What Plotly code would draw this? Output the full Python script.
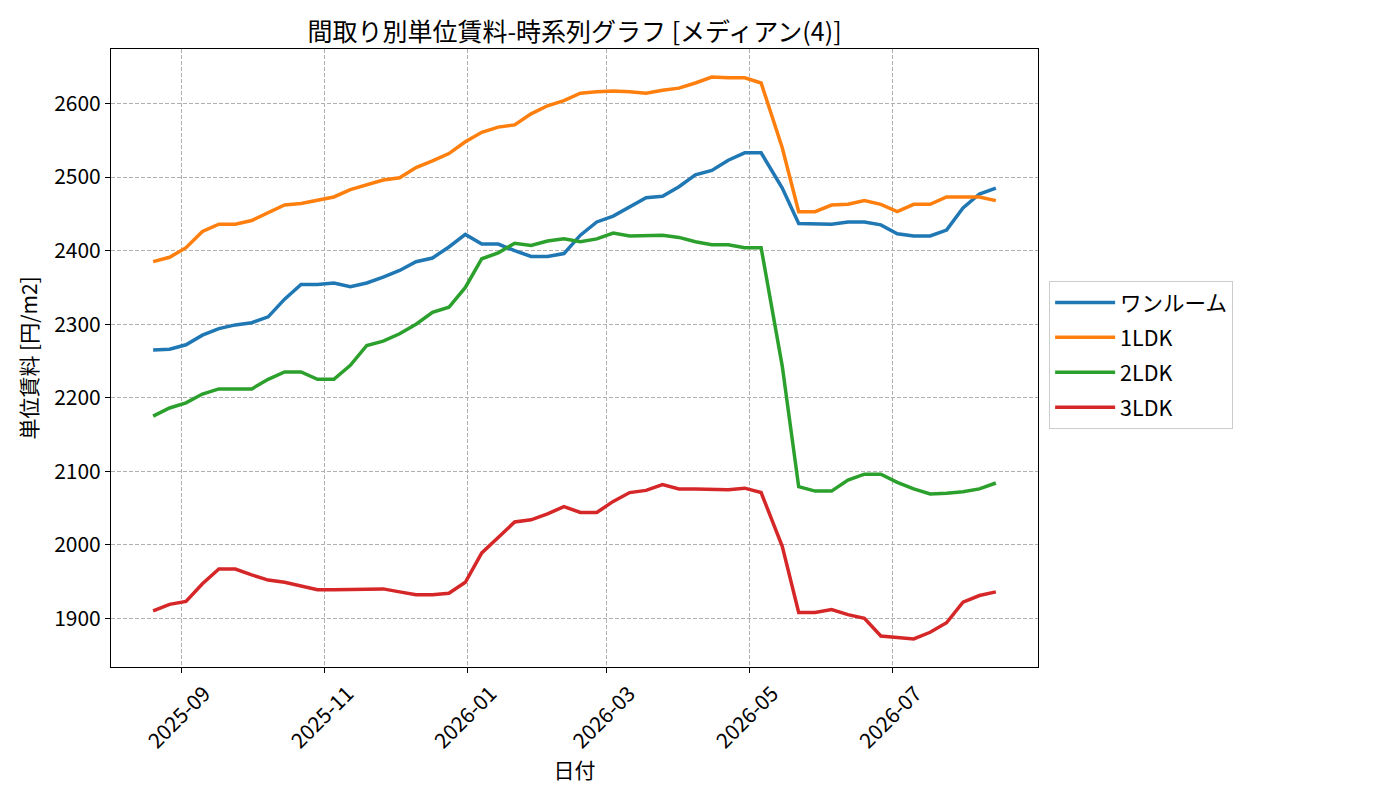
import pandas as pd
import plotly.graph_objects as go

dates = [
    "2025-08-20", "2025-08-27", "2025-09-03", "2025-09-10", "2025-09-17", "2025-09-24",
    "2025-10-01", "2025-10-08", "2025-10-15", "2025-10-22", "2025-10-29", "2025-11-05",
    "2025-11-12", "2025-11-19", "2025-11-26", "2025-12-03", "2025-12-10", "2025-12-17",
    "2025-12-24", "2025-12-31", "2026-01-07", "2026-01-14", "2026-01-21", "2026-01-28",
    "2026-02-04", "2026-02-11", "2026-02-18", "2026-02-25", "2026-03-04", "2026-03-11",
    "2026-03-18", "2026-03-25", "2026-04-01", "2026-04-08", "2026-04-15", "2026-04-22",
    "2026-04-29", "2026-05-06", "2026-05-15", "2026-05-22", "2026-05-29", "2026-06-05",
    "2026-06-12", "2026-06-19", "2026-06-26", "2026-07-03", "2026-07-10", "2026-07-17",
    "2026-07-24", "2026-07-31", "2026-08-07", "2026-08-14",
]

one_room = [
    2265, 2266, 2272, 2285, 2294, 2299, 2302, 2310, 2334, 2354, 2354, 2356, 2351,
    2356, 2364, 2373, 2385, 2390, 2405, 2422, 2409, 2409, 2400, 2392, 2392, 2396,
    2421, 2439, 2447, 2460, 2472, 2474, 2487, 2503, 2509, 2523, 2533, 2533,
    2485, 2437, 2436, 2436, 2439, 2439, 2435, 2423, 2420, 2420, 2428, 2458, 2477, 2485,
]

ldk1 = [
    2385, 2391, 2404, 2426, 2436, 2436, 2441, 2451, 2462, 2464, 2469, 2473, 2483,
    2490, 2496, 2499, 2513, 2522, 2532, 2548, 2561, 2568, 2571, 2586, 2597, 2604,
    2614, 2616, 2617, 2616, 2614, 2618, 2621, 2628, 2636, 2635, 2635, 2628,
    2540, 2453, 2453, 2462, 2463, 2468, 2463, 2453, 2463, 2463, 2473, 2473, 2473, 2468,
]

ldk2 = [
    2175, 2186, 2193, 2205, 2212, 2212, 2212, 2225, 2235, 2235, 2225, 2225, 2244,
    2271, 2277, 2287, 2300, 2316, 2323, 2350, 2389, 2397, 2410, 2407, 2413, 2416,
    2412, 2416, 2424, 2420, 2420, 2421, 2418, 2412, 2408, 2408, 2404, 2404,
    2243, 2079, 2073, 2073, 2088, 2096, 2096, 2085, 2076, 2069, 2070, 2072, 2076, 2084,
]

ldk3 = [
    1910, 1919, 1923, 1947, 1967, 1967, 1959, 1952, 1949, 1944, 1939, 1939, 1939,
    1939, 1940, 1936, 1932, 1932, 1934, 1949, 1989, 2010, 2031, 2034, 2042, 2052,
    2044, 2044, 2059, 2071, 2074, 2082, 2076, 2076, 2075, 2075, 2077, 2071,
    1998, 1908, 1908, 1912, 1905, 1900, 1876, 1874, 1872, 1881, 1894, 1922, 1931, 1936,
]

series_names = ["ワンルーム", "1LDK", "2LDK", "3LDK"]
series_values = [one_room, ldk1, ldk2, ldk3]
colors = ["#1f77b4", "#ff7f0e", "#2ca02c", "#d62728"]

title_text = "間取り別単位賃料-時系列グラフ [メディアン(4)]"
x_label = "日付"
y_label = "単位賃料 [円/m2]"

FONT = "Noto Sans CJK JP, Noto Sans, sans-serif"

fig = go.Figure()
for name, vals, col in zip(series_names, series_values, colors):
    fig.add_trace(go.Scatter(
        x=pd.to_datetime(dates), y=vals, mode="lines", name=name,
        legendgroup=name,
        line=dict(color=col, width=3.5),
    ))

# matplotlib-like 5% margins
xd = pd.to_datetime(dates)
x0, x1 = xd.min(), xd.max()
xs = x1 - x0
xr = [(x0 - 0.05 * xs).isoformat(), (x1 + 0.05 * xs).isoformat()]
allv = [v for s in series_values for v in s]
ymin, ymax = min(allv), max(allv)
ys = ymax - ymin
yr = [ymin - 0.05 * ys, ymax + 0.05 * ys]

axis_common = dict(
    showline=True, linecolor="black", linewidth=1.1, mirror=True,
    ticks="outside", ticklen=5, tickwidth=1.1, tickcolor="black",
    showgrid=True, gridcolor="#b0b0b0", gridwidth=1, griddash="4px,2px",
    zeroline=False,
    tickfont=dict(family=FONT, size=21, color="black"),
)

fig.update_xaxes(
    **axis_common,
    range=xr,
    tick0="2025-09-01", dtick="M2", tickformat="%Y-%m",
    tickangle=-45, ticklabelshift=23,
    title=dict(text=x_label, font=dict(family=FONT, size=21, color="black"), standoff=8),
)
fig.update_yaxes(
    **axis_common,
    range=yr,
    tick0=1900, dtick=100,
    title=dict(text=y_label, font=dict(family=FONT, size=21, color="black"), standoff=10),
)

fig.update_layout(
    width=1400, height=800,
    paper_bgcolor="white", plot_bgcolor="white",
    margin=dict(l=103, r=370, t=41, b=141),
    font=dict(family=FONT, color="black"),
    title=dict(text=title_text, x=0.5, xref="paper", xanchor="center",
               y=1 - 24 / 800, yref="container", yanchor="middle",
               font=dict(family=FONT, size=25, color="black")),
    legend=dict(
        x=1.012, xanchor="left", y=0.505, yanchor="middle",
        bgcolor="white", bordercolor="#cccccc", borderwidth=1,
        font=dict(family=FONT, size=21.5, color="black"),
        tracegroupgap=4, itemwidth=60,
    ),
    showlegend=True,
)

fig.write_html("out.html")
